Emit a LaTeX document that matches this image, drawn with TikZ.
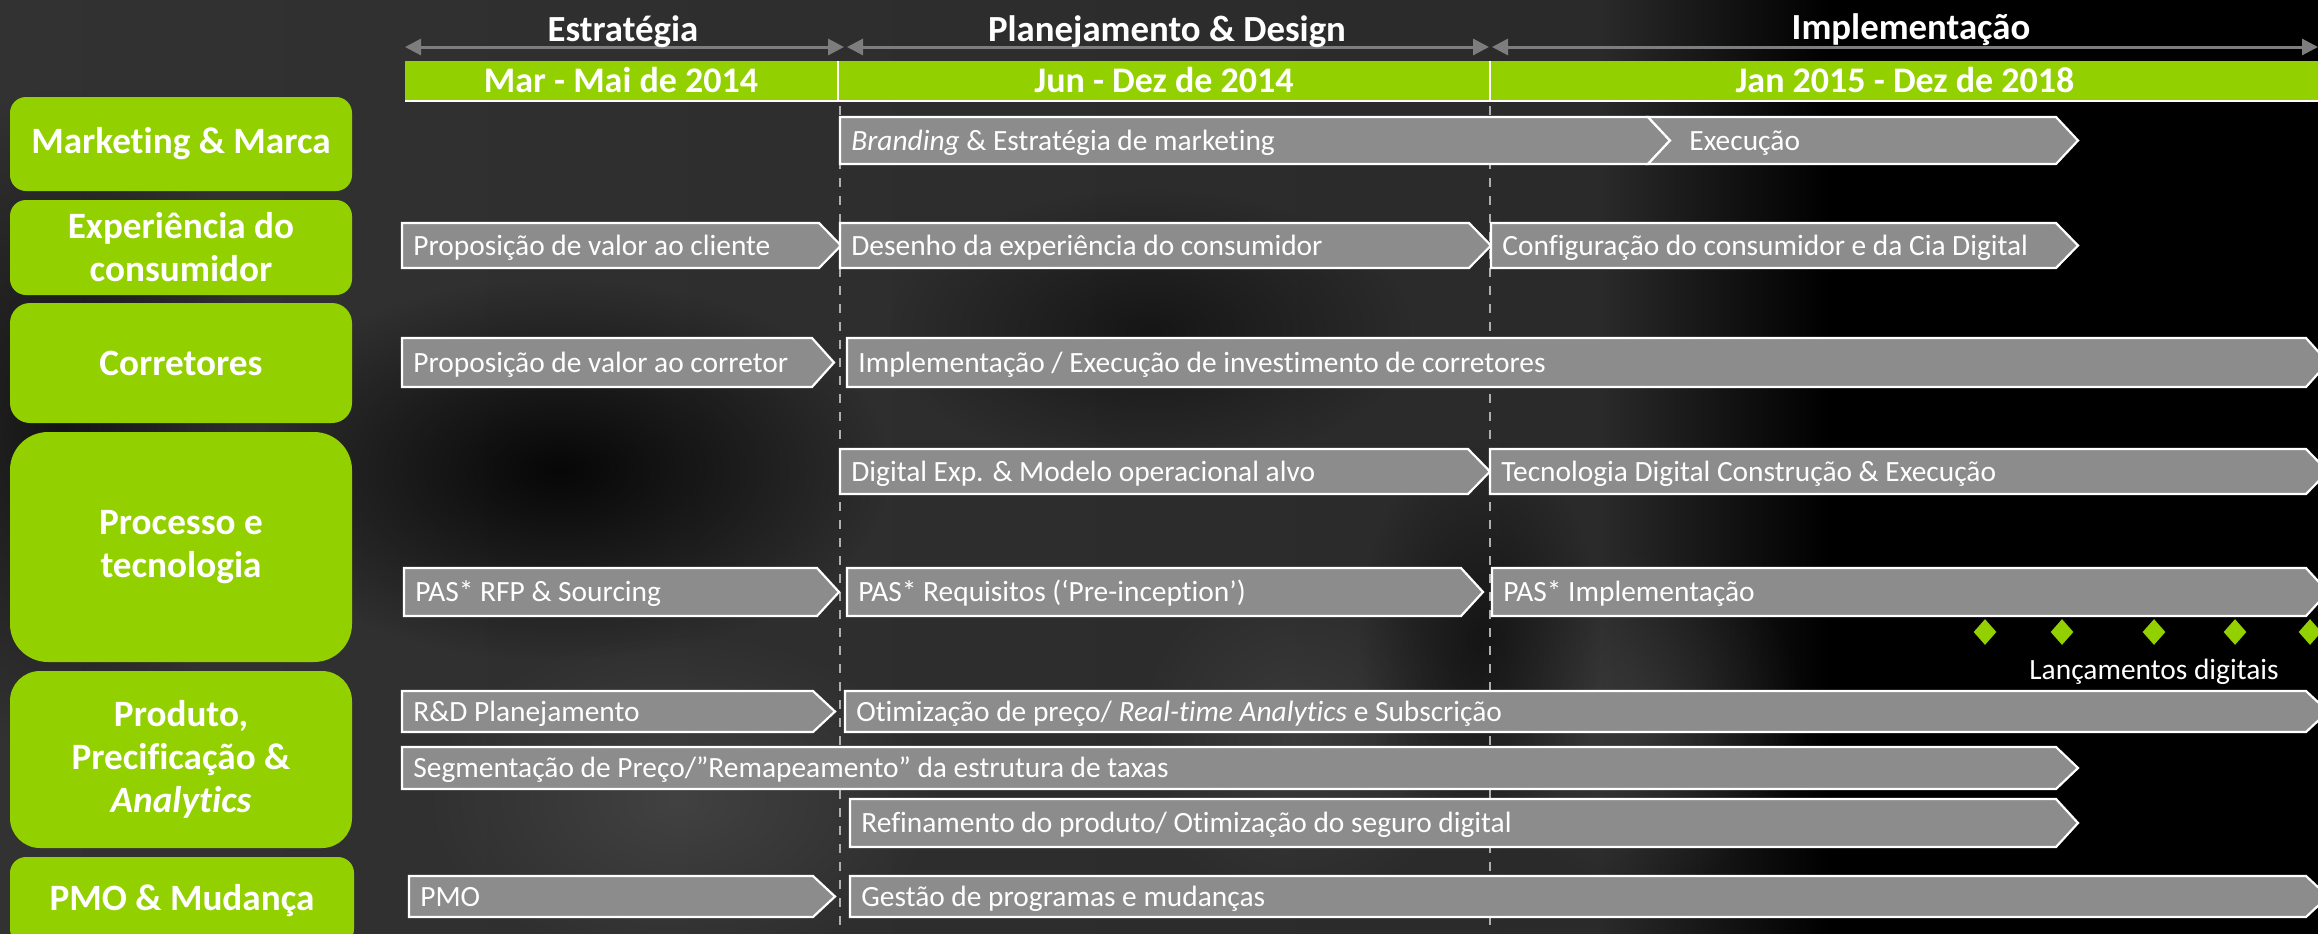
\documentclass[tikz,border=0pt]{standalone}
\usepackage{fontspec}
\setmainfont{Carlito}[Ligatures=NoCommon]
\usetikzlibrary{arrows.meta,shapes.geometric,fadings}
\definecolor{lime}{RGB}{146,208,0}
\definecolor{chevgray}{RGB}{140,140,140}
\definecolor{bgA}{RGB}{50,50,50}
\definecolor{bgB}{RGB}{42,42,42}
\definecolor{phasegray}{RGB}{125,125,125}
\definecolor{dashgray}{RGB}{175,175,175}
\tikzfading[name=softblob, inner color=transparent!0, outer color=transparent!100]
\tikzset{
  chev/.style={fill=chevgray, draw=white, line width=1.1pt, line join=miter},
  chevtxt/.style={anchor=west, text=white, font=\fontsize{14.7}{17}\selectfont, inner sep=0pt, text height=9.5pt, text depth=0pt},
  catbox/.style={fill=lime, text=white, font=\bfseries\fontsize{18.6}{21.5}\selectfont, align=center, inner sep=0pt, minimum width=171pt},
  phasetxt/.style={anchor=base, text=white, font=\bfseries\fontsize{18.4}{22}\selectfont, inner sep=0pt},
  datetxt/.style={text=white, font=\bfseries\fontsize{18}{22}\selectfont, inner sep=0pt, text height=11.6pt, text depth=0pt},
  phasearrow/.style={draw=phasegray, line width=1.5pt, {Triangle[length=8pt,width=8pt]}-{Triangle[length=8pt,width=8pt]}},
  sepline/.style={draw=dashgray, line width=1pt, dash pattern=on 4.5pt off 4.5pt},
  launch/.style={diamond, fill=lime, inner sep=0pt, minimum width=11.5pt, minimum height=13pt},
  blob/.style={path fading=softblob},
}
\newcommand\pentx[6]{%
  \draw[chev] (#2,#4) -- ({#3-22},#4) -- (#3,{(#4+#5)/2}) -- ({#3-22},#5) -- (#2,#5) -- cycle;
  \node[chevtxt] (#1) at ({#2+11},{(#4+#5)/2}) {#6};}
\newcommand\notchx[6]{%
  \draw[chev] (#2,#4) -- ({#3-22},#4) -- (#3,{(#4+#5)/2}) -- ({#3-22},#5) -- (#2,#5) -- ({#2+22},{(#4+#5)/2}) -- cycle;
  \node[chevtxt] (#1) at ({#2+41},{(#4+#5)/2}) {#6};}
\begin{document}
\begin{tikzpicture}[x=0.5pt,y=-0.5pt]
\useasboundingbox (0,0) rectangle (2318,933);
% background
\fill[bgA] (-20,-20) rectangle (2340,960);
\shade[left color=bgA, right color=bgB] (-20,-20) rectangle (1600,960);
\shade[left color=bgB, right color=black] (1600,-20) rectangle (1830,960);
\fill[black] (1829,-20) rectangle (2340,960);
% soft photo blobs
\fill[black, blob, opacity=0.85] (560,470) ellipse (330 and 190);
\fill[black, blob, opacity=0.6] (60,420) ellipse (200 and 330);
\fill[black, blob, opacity=0.5] (1150,330) ellipse (260 and 140);
\fill[gray!70!black, blob, opacity=0.45] (680,800) ellipse (260 and 170);
\fill[gray!70!black, blob, opacity=0.35] (1300,740) ellipse (170 and 170);
\fill[gray!70!black, blob, opacity=0.35] (1640,720) ellipse (170 and 170);
\fill[black, blob, opacity=0.5] (1480,640) ellipse (120 and 200);

% phase headers
\coordinate (p0) at (405,47);
\coordinate (p1) at (844,47);
\coordinate (p1b) at (847,47);
\coordinate (p2) at (1489,47);
\coordinate (p2b) at (1492,47);
\coordinate (p3) at (2318,47);
\draw[phasearrow] (p0) -- (p1);
\draw[phasearrow] (p1b) -- (p2);
\draw[phasearrow] (p2b) -- (p3);
\node[phasetxt] (h1) at (623,41) {Estratégia};
\node[phasetxt] (h2) at (1167,41) {Planejamento \& Design};
\node[phasetxt] (h3) at (1911,39) {Implementação};

% date bar
\fill[lime] (405,61) rectangle (2330,100);
\draw[white, line width=1pt] (405,101) -- (2330,101);
\draw[white, line width=1pt] (838,61) -- (838,101);
\draw[white, line width=1pt] (1490,61) -- (1490,101);
\node[datetxt] (d1) at (621,81) {Mar - Mai de 2014};
\node[datetxt] (d2) at (1164,81) {Jun - Dez de 2014};
\node[datetxt] (d3) at (1905,81) {Jan 2015 - Dez de 2018};

% dashed separators
\coordinate (s1t) at (840,106);
\coordinate (s1b) at (840,940);
\coordinate (s2t) at (1490,106);
\coordinate (s2b) at (1490,940);
\draw[sepline] (s1t) -- (s1b);
\draw[sepline] (s2t) -- (s2b);

% category boxes
\node[catbox, minimum height=47pt, rounded corners=8pt] (c1) at (181,144) {Marketing \& Marca};
\node[catbox, minimum height=47.5pt, rounded corners=8pt] (c2) at (181,247.5) {Experiência do\\consumidor};
\node[catbox, minimum height=60pt, rounded corners=10pt] (c3) at (181,363) {Corretores};
\node[catbox, minimum height=115pt, rounded corners=19pt] (c4) at (181,547) {Processo e\\tecnologia};
\node[catbox, minimum height=88.5pt, rounded corners=15pt] (c5) at (181,759.5) {Produto,\\Precificação \&\\\textit{Analytics}};
\node[catbox, minimum height=44pt, minimum width=172pt, rounded corners=8pt] (c6) at (182,901) {PMO \& Mudança};

% row 1
\pentx{b1}{840}{1670}{117}{164}{\textit{Branding} \& Estratégia de marketing}
\notchx{b2}{1648}{2078}{117}{164}{Execução}
% row 2
\pentx{e1}{402}{841}{223}{268}{Proposição de valor ao cliente}
\pentx{e2}{840}{1491}{223}{268}{Desenho da experiência do consumidor}
\pentx{e3}{1491}{2078}{223}{268}{Configuração do consumidor e da Cia Digital}
% row 3
\pentx{r1}{402}{834}{338}{387}{Proposição de valor ao corretor}
\pentx{r2}{847}{2328}{338}{387}{Implementação / Execução de investimento de corretores}
% row 4
\pentx{t1}{840}{1490}{449}{494}{Digital Exp. \& Modelo operacional alvo}
\pentx{t2}{1490}{2328}{449}{494}{Tecnologia Digital Construção \& Execução}
% row 5
\pentx{t3}{404}{839}{568}{616}{PAS* RFP \& Sourcing}
\pentx{t4}{847}{1483}{568}{616}{PAS* Requisitos (‘Pre-inception’)}
\pentx{t5}{1492}{2328}{568}{616}{PAS* Implementação}
% launches
\node[launch] (l1) at (1985,632) {};
\node[launch] (l2) at (2062,632) {};
\node[launch] (l3) at (2154,632) {};
\node[launch] (l4) at (2235,632) {};
\node[launch] (l5) at (2310,632) {};
\node[chevtxt, anchor=center] (lt) at (2154,670) {Lançamentos digitais};
% row 6
\pentx{p1n}{402}{835}{691}{732}{R\&D Planejamento}
\pentx{p2n}{845}{2328}{691}{732}{Otimização de preço/ \textit{Real-time Analytics} e Subscrição}
% row 7
\pentx{p3n}{402}{2078}{747}{789}{Segmentação de Preço/”Remapeamento” da estrutura de taxas}
% row 8
\pentx{p4n}{850}{2078}{799}{847}{Refinamento do produto/ Otimização do seguro digital}
% row 9
\pentx{m1}{409}{835}{876}{917}{PMO}
\pentx{m2}{850}{2328}{876}{917}{Gestão de programas e mudanças}
\end{tikzpicture}
\end{document}
